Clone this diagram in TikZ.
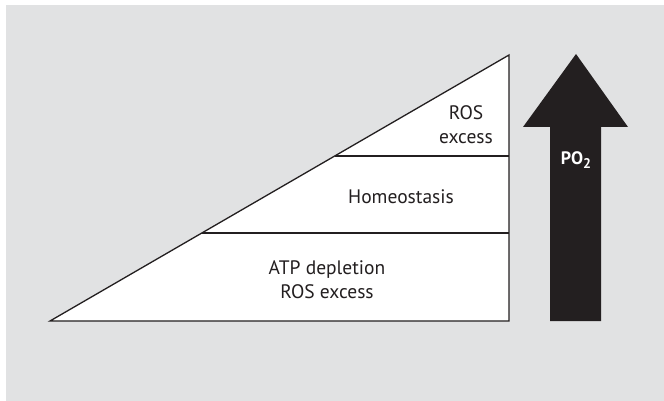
\documentclass[tikz,border=0pt]{standalone}
\usepackage{fontspec}
\setmainfont{PT Sans}
\definecolor{bggray}{HTML}{E1E2E3}
\definecolor{ink}{HTML}{231F20}
\begin{document}
\begin{tikzpicture}[x=1pt,y=-1pt,
  lbl/.style={font=\fontsize{19.5}{24}\selectfont, text=ink, align=center, inner sep=0pt},
  edge/.style={draw=ink, line width=1.3pt}]
\useasboundingbox (0,0) rectangle (664,401);
\fill[white] (0,0) rectangle (664,401);
\fill[bggray] (6,5) rectangle (664,401);
% triangle
\coordinate (L) at (50,321);
\coordinate (R) at (509,321);
\coordinate (T) at (509,55);
\coordinate (a1) at (201.9,233);
\coordinate (b1) at (509,233);
\coordinate (a2) at (334.7,156);
\coordinate (b2) at (509,156);
\filldraw[fill=white, edge, line join=miter] (L) -- (R) -- (T) -- cycle;
\draw[edge] (a1) -- (b1);
\draw[edge] (a2) -- (b2);
% labels
\node[lbl] (ros) at (466,125) {ROS\\excess};
\node[lbl] (homeo) at (401,197) {Homeostasis};
\node[lbl] (atp) at (327,280) {ATP depletion\\ROS excess};
% arrow
\fill[ink] (550,321) -- (601,321) -- (601,127) -- (628,127) -- (576,54) -- (523,127) -- (550,127) -- cycle;
\node[font=\fontsize{18}{20}\selectfont\bfseries, text=white, inner sep=0pt] (po2) at (576,160) {PO\raisebox{-0.25em}{\fontsize{14}{14}\selectfont 2}};
\end{tikzpicture}
\end{document}
